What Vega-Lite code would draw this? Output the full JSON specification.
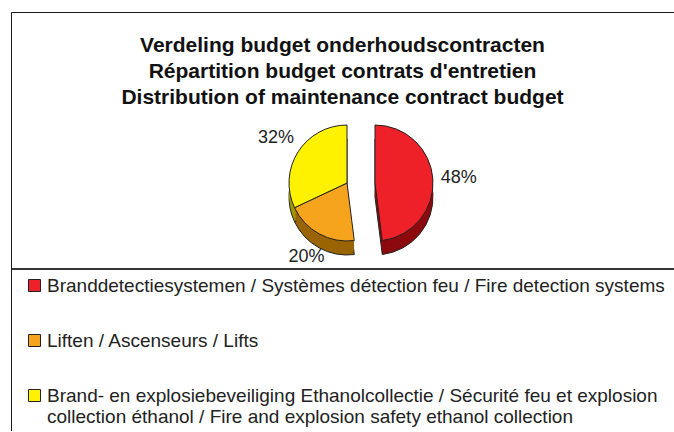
{
  "$schema": "https://vega.github.io/schema/vega-lite/v6.json",
  "padding": {"left": 10, "top": 12, "right": 0, "bottom": 0},
  "background": "white",
  "width": 663,
  "height": 419,
  "config": {
    "view": {"stroke": "#1a1a1a", "strokeWidth": 1},
    "font": "Liberation Sans"
  },
  "title": {
    "text": ["Verdeling budget onderhoudscontracten", "Répartition budget contrats d'entretien", "Distribution of maintenance contract budget"],
    "fontSize": 21,
    "fontWeight": "bold",
    "font": "Liberation Sans",
    "color": "#111111",
    "lineHeight": 26,
    "anchor": "middle",
    "frame": "group",
    "offset": -96
  },
  "datasets": {
    "budget": [
      {"cat": "Branddetectiesystemen / Systèmes détection feu / Fire detection systems", "pct": 48, "label": "48%", "idx": 1, "side": "R"},
      {"cat": "Liften / Ascenseurs / Lifts", "pct": 20, "label": "20%", "idx": 2, "side": "L"},
      {"cat": "Brand- en explosiebeveiliging Ethanolcollectie / Sécurité feu et explosion collection éthanol / Fire and explosion safety ethanol collection", "pct": 32, "label": "32%", "idx": 3, "side": "L"}
    ]
  },
  "data": {"name": "budget"},
  "layer": [
    {
      "encoding": {
        "theta": {"field": "pct", "type": "quantitative", "stack": true},
        "order": {"field": "idx", "type": "quantitative"},
        "x": {"field": "side", "type": "nominal", "scale": {"type": "point", "domain": ["L", "R"], "range": [336, 364], "padding": 0}, "axis": null}
      },
      "resolve": {"scale": {"color": "independent"}, "legend": {"color": "independent"}},
      "layer": [
        {
          "mark": {"type": "arc", "radius": 58, "stroke": "#222222", "strokeWidth": 1},
          "encoding": {
            "y": {"value": 185},
            "color": {"field": "cat", "type": "nominal", "scale": {"domain": ["Branddetectiesystemen / Systèmes détection feu / Fire detection systems", "Liften / Ascenseurs / Lifts", "Brand- en explosiebeveiliging Ethanolcollectie / Sécurité feu et explosion collection éthanol / Fire and explosion safety ethanol collection"], "range": ["#8c0a0e", "#9a6500", "#a39700"]}, "legend": null}
          }
        },
        {
          "mark": {"type": "arc", "radius": 58, "strokeWidth": 0},
          "encoding": {"y": {"value": 181}, "color": {"field": "cat", "type": "nominal", "scale": {"domain": ["Branddetectiesystemen / Systèmes détection feu / Fire detection systems", "Liften / Ascenseurs / Lifts", "Brand- en explosiebeveiliging Ethanolcollectie / Sécurité feu et explosion collection éthanol / Fire and explosion safety ethanol collection"], "range": ["#8c0a0e", "#9a6500", "#a39700"]}, "legend": null}}
        },
        {
          "mark": {"type": "arc", "radius": 58, "strokeWidth": 0},
          "encoding": {"y": {"value": 177}, "color": {"field": "cat", "type": "nominal", "scale": {"domain": ["Branddetectiesystemen / Systèmes détection feu / Fire detection systems", "Liften / Ascenseurs / Lifts", "Brand- en explosiebeveiliging Ethanolcollectie / Sécurité feu et explosion collection éthanol / Fire and explosion safety ethanol collection"], "range": ["#8c0a0e", "#9a6500", "#a39700"]}, "legend": null}}
        },
        {
          "mark": {"type": "arc", "radius": 58, "strokeWidth": 0},
          "encoding": {"y": {"value": 173}, "color": {"field": "cat", "type": "nominal", "scale": {"domain": ["Branddetectiesystemen / Systèmes détection feu / Fire detection systems", "Liften / Ascenseurs / Lifts", "Brand- en explosiebeveiliging Ethanolcollectie / Sécurité feu et explosion collection éthanol / Fire and explosion safety ethanol collection"], "range": ["#8c0a0e", "#9a6500", "#a39700"]}, "legend": null}}
        },
        {
          "mark": {"type": "arc", "radius": 58, "stroke": "#222222", "strokeWidth": 1},
          "encoding": {
            "y": {"value": 171},
            "color": {
              "field": "cat",
              "type": "nominal",
              "scale": {"domain": ["Branddetectiesystemen / Systèmes détection feu / Fire detection systems", "Liften / Ascenseurs / Lifts", "Brand- en explosiebeveiliging Ethanolcollectie / Sécurité feu et explosion collection éthanol / Fire and explosion safety ethanol collection"], "range": ["#ee2128", "#f6a31d", "#fff200"]},
              "legend": {
                "orient": "none",
                "legendX": 14,
                "legendY": 264,
                "title": null,
                "padding": 0,
                "symbolType": "square",
                "symbolSize": 144,
                "symbolStrokeColor": "#222222",
                "symbolStrokeWidth": 1,
                "labelFontSize": 19,
                "labelFont": "Liberation Sans",
                "labelColor": "#222222",
                "labelLimit": 700,
                "labelOffset": 3,
                "rowPadding": 35,
                "labelExpr": "indexof(datum.label, 'Brand- en') == 0 ? ['Brand- en explosiebeveiliging Ethanolcollectie / Sécurité feu et explosion', 'collection éthanol / Fire and explosion safety ethanol collection'] : datum.label",
                "encode": {"labels": {"update": {"lineHeight": {"value": 21}}}}
              }
            }
          }
        },
        {
          "mark": {"type": "text", "fontSize": 18, "font": "Liberation Sans", "color": "#222222"},
          "encoding": {
            "y": {"value": 171},
            "radius": {"value": 84},
            "detail": {"field": "cat"},
            "text": {"field": "label"}
          }
        }
      ]
    },
    {
      "mark": {"type": "rule", "color": "#1a1a1a", "strokeWidth": 1},
      "encoding": {"y": {"value": 257}}
    }
  ]
}
